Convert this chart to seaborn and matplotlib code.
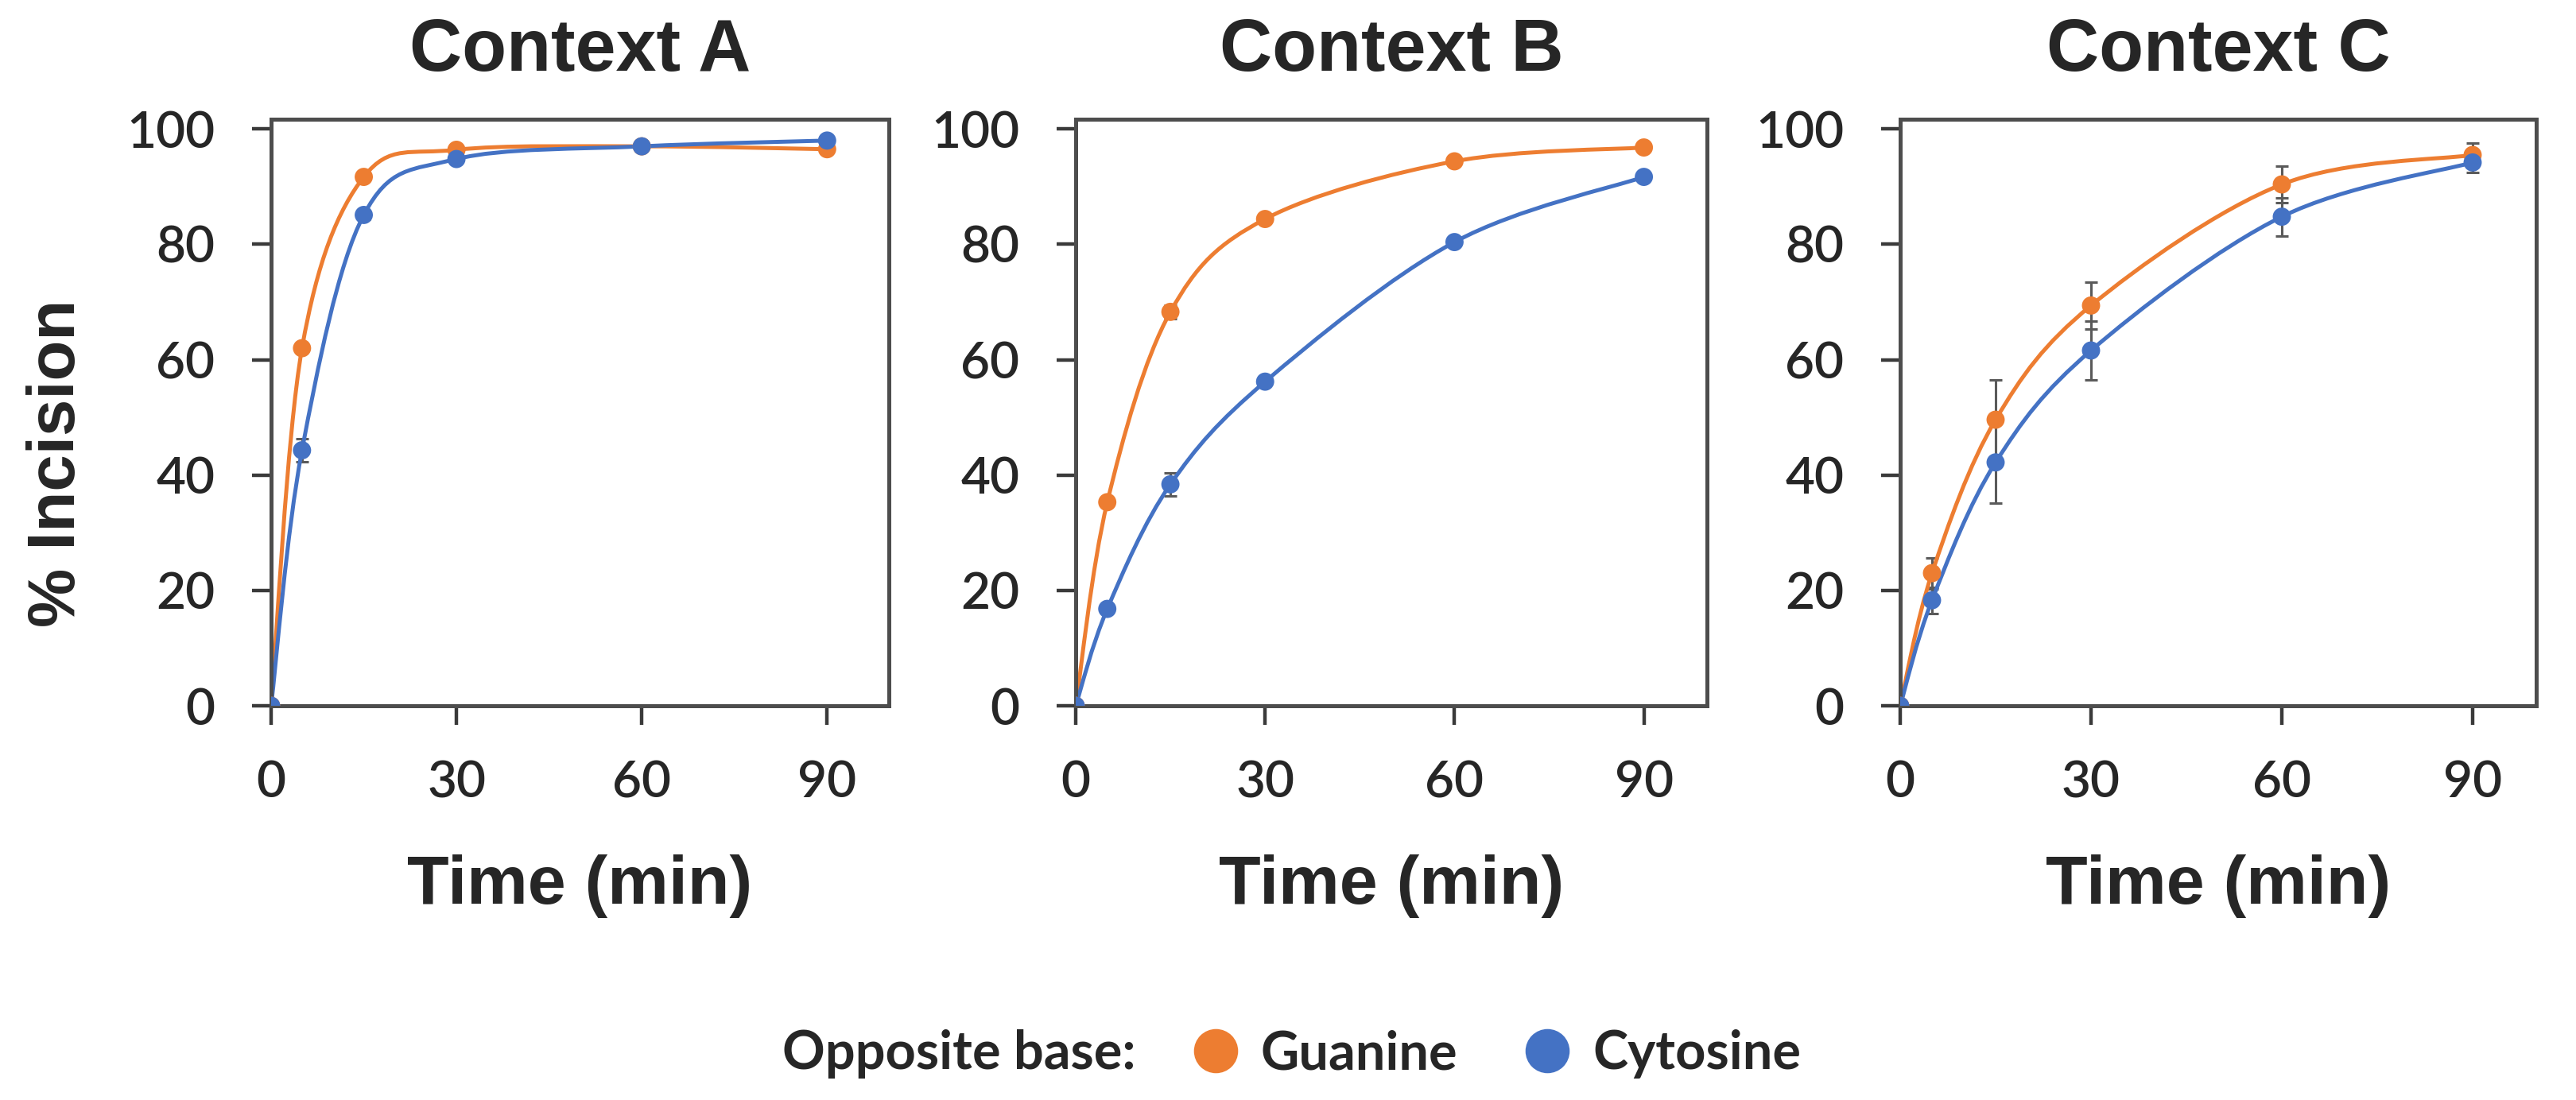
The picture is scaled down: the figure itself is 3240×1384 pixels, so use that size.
import numpy as np
import pandas as pd
import matplotlib
matplotlib.use("Agg")
import matplotlib.pyplot as plt
from matplotlib.path import Path
from matplotlib.patches import PathPatch
import seaborn as sns

# data
times = [0, 5, 15, 30, 60, 90]
contexts = ["Context A", "Context B", "Context C"]
bases = ["Guanine", "Cytosine"]

guanine_a = [0, 62.0, 91.7, 96.4, 97.0, 96.5]
cytosine_a = [0, 44.3, 85.1, 94.8, 97.0, 98.0]
guanine_a_err = [0, 0.5, 0.6, 0.4, 0.3, 0.4]
cytosine_a_err = [0, 2.0, 0.8, 0.6, 0.4, 0.4]

guanine_b = [0, 35.3, 68.3, 84.4, 94.4, 96.8]
cytosine_b = [0, 16.8, 38.4, 56.2, 80.4, 91.7]
guanine_b_err = [0, 0.5, 1.2, 0.5, 0.4, 0.4]
cytosine_b_err = [0, 0.5, 2.0, 0.5, 0.5, 0.5]

guanine_c = [0, 23.0, 49.6, 69.4, 90.4, 95.5]
cytosine_c = [0, 18.3, 42.2, 61.6, 84.8, 94.2]
guanine_c_err = [0, 2.7, 6.9, 4.1, 3.2, 2.1]
cytosine_c_err = [0, 2.3, 7.0, 5.1, 3.3, 1.8]

values = {
    "Context A": {"Guanine": (guanine_a, guanine_a_err), "Cytosine": (cytosine_a, cytosine_a_err)},
    "Context B": {"Guanine": (guanine_b, guanine_b_err), "Cytosine": (cytosine_b, cytosine_b_err)},
    "Context C": {"Guanine": (guanine_c, guanine_c_err), "Cytosine": (cytosine_c, cytosine_c_err)},
}
palette = {"Guanine": "#ED7D31", "Cytosine": "#4472C4"}

rows = []
for ctx in contexts:
    for base in bases:
        ys, errs = values[ctx][base]
        for t, y, e in zip(times, ys, errs):
            rows.append({"context": ctx, "base": base, "time": t, "incision": y, "err": e})
df = pd.DataFrame(rows)

sns.set_style("ticks")
plt.rcParams["font.family"] = ["Liberation Sans", "DejaVu Sans"]
tick_font = "Lato"


def smooth_path(xs, ys):
    # excel style smoothed line: bezier segments through the points
    pts = np.column_stack([xs, ys]).astype(float)
    n = len(pts)
    verts = [pts[0]]
    codes = [Path.MOVETO]
    for i in range(n - 1):
        p0 = pts[max(i - 1, 0)]
        p1 = pts[i]
        p2 = pts[i + 1]
        p3 = pts[min(i + 2, n - 1)]
        verts += [p1 + (p2 - p0) / 6, p2 - (p3 - p1) / 6, p2]
        codes += [Path.CURVE4] * 3
    return Path(verts, codes)


fig = plt.figure(figsize=(16.2, 6.92), dpi=200)
W, H = 3240, 1384
boxes = [(341, 777), (1353, 794), (2390, 800)]
top, bottom = 150, 888

for ctx, (left, width) in zip(contexts, boxes):
    ax = fig.add_axes([left / W, 1 - bottom / H, width / W, (bottom - top) / H])
    sub = df[df["context"] == ctx]
    for base in bases:
        d = sub[sub["base"] == base]
        ax.add_patch(PathPatch(smooth_path(d["time"], d["incision"]), fill=False,
                               edgecolor=palette[base], lw=1.8, zorder=2))
        ax.errorbar(d["time"], d["incision"], yerr=d["err"], fmt="none",
                    ecolor="#5a5a5a", elinewidth=1.1, capsize=3, capthick=1.1, zorder=1)
    sns.scatterplot(data=sub, x="time", y="incision", hue="base", palette=palette,
                    s=68, linewidth=0, ax=ax, zorder=3, legend=False)
    ax.set_xlim(0, 100)
    ax.set_ylim(0, 101.7)
    ax.set_xticks([0, 30, 60, 90])
    ax.set_yticks([0, 20, 40, 60, 80, 100])
    for sp in ax.spines.values():
        sp.set_visible(True)
        sp.set_color("#4d4d4d")
        sp.set_linewidth(1.8)
    ax.tick_params(direction="out", length=8.5, width=1.6, color="#3a3a3a")
    ax.tick_params(axis="x", pad=16)
    ax.tick_params(axis="y", pad=17)
    for lab in ax.get_xticklabels() + ax.get_yticklabels():
        lab.set_fontfamily(tick_font)
        lab.set_fontsize(23)
        lab.set_fontweight("semibold")
    ax.set_title(ctx, fontsize=33, fontweight="bold", pad=22)
    ax.set_xlabel("Time (min)", fontsize=31, fontweight="bold", labelpad=22)
    ax.set_ylabel("")

fig.text(72 / W, 1 - 583 / H, "% Incision", rotation=90, fontsize=30,
         fontweight="bold", ha="center", va="center")

# legend
fig.text(984 / W, 1 - 1326 / H, "Opposite base:", fontsize=24, fontweight="bold",
         family=tick_font, ha="left", va="center")
handles = [plt.Line2D([], [], ls="", marker="o", markersize=19, color=palette[b]) for b in bases]
fig.legend(handles, bases, loc="center left", bbox_to_anchor=(1462 / W, 1 - 1326 / H),
           ncol=2, frameon=False, borderpad=0, handlelength=1.0, handletextpad=0.35,
           columnspacing=1.2, prop={"family": tick_font, "size": 24, "weight": "bold"})

fig.savefig("out.png", dpi=200, facecolor="white")
